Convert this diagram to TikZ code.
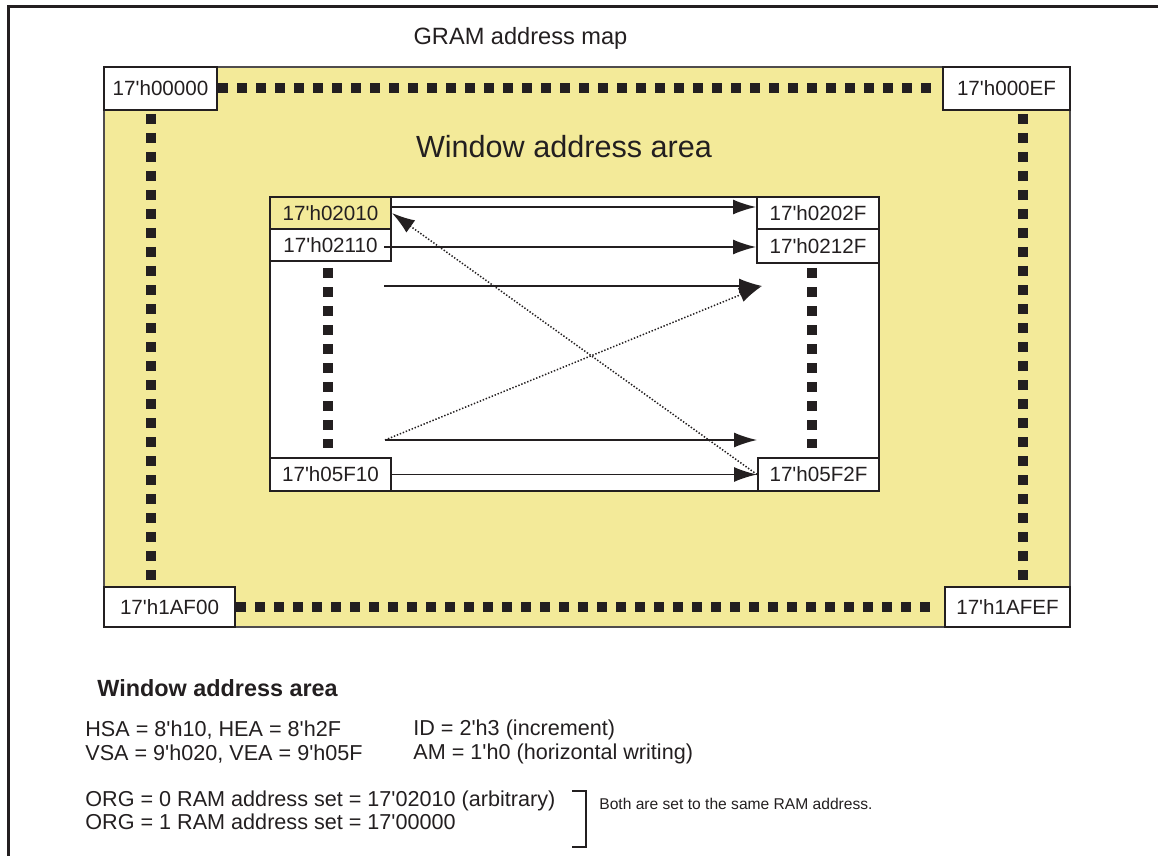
\documentclass[tikz,border=0pt]{standalone}
\usepackage{fontspec}
\setmainfont{Liberation Sans}[Ligatures=TeXOff]
\usetikzlibrary{arrows.meta}
\definecolor{gramyellow}{RGB}{243,234,153}
\definecolor{ink}{RGB}{35,31,32}

\begin{document}
\begin{tikzpicture}[x=0.5pt,y=-0.5pt,
    addr/.style={draw=ink,line width=1pt,fill=white,inner sep=0pt,text=ink,font=\fontsize{10.3}{12}\selectfont},
    sqdots/.style={ink,line width=5pt,dash pattern=on 5pt off 4.5pt},
    wr/.style={ink,line width=0.75pt,-{Latex[length=11.5pt,width=7.5pt]}},
    jump/.style={ink,line width=0.75pt,dash pattern=on 0.7pt off 0.9pt,-{Latex[length=11.5pt,width=7.5pt]}},
    txt/.style={anchor=west,inner sep=0pt,text=ink,font=\fontsize{10.8}{12}\selectfont}]
    \useasboundingbox (0,0) rectangle (1158,856);
    % frame and GRAM area
    \draw[ink,line width=1.5pt] (8,856) -- (8,7) -- (1158,7);
    \draw[fill=gramyellow,draw=ink!80,line width=1pt] (104,67) rectangle (1070,627);
    \draw[fill=white,draw=ink,line width=1pt] (270,197) rectangle (879,491);
    \node[text=ink,font=\fontsize{11.8}{14}\selectfont] (title) at (520.5,38) {GRAM address map};
    \node[text=ink,font=\fontsize{15.3}{18}\selectfont] (area) at (564,147) {Window address area};
    % corner addresses
    \node[addr,minimum width=56.5pt,minimum height=21.5pt] (tl) at (160.5,88.5) {17'h00000};
    \node[addr,minimum width=63.5pt,minimum height=21.5pt] (tr) at (1006.5,88.5) {17'h000EF};
    \node[addr,minimum width=65.5pt,minimum height=20pt] (bl) at (169.5,607) {17'h1AF00};
    \node[addr,minimum width=62.5pt,minimum height=20pt] (br) at (1007.5,607) {17'h1AFEF};
    \draw[sqdots,shorten >=3pt] (tl.east) -- (tr.west);
    \draw[sqdots,shorten >=3pt] (bl.east) -- (br.west);
    \draw[sqdots] (151,114) -- (151,582);
    \draw[sqdots] (1023,114) -- (1023,582);
    % window addresses
    \node[addr,fill=gramyellow,minimum width=60.5pt,minimum height=16pt] (s02010) at (330.5,213) {17'h02010};
    \node[addr,minimum width=60.5pt,minimum height=16pt] (s02110) at (330.5,245) {17'h02110};
    \node[addr,minimum width=61pt,minimum height=16pt] (e0202F) at (818,213) {17'h0202F};
    \node[addr,minimum width=61pt,minimum height=17pt] (e0212F) at (818,246) {17'h0212F};
    \node[addr,minimum width=60.5pt,minimum height=16.5pt] (s05F10) at (330.5,474.5) {17'h05F10};
    \node[addr,minimum width=60.5pt,minimum height=16.5pt] (e05F2F) at (818.5,474.5) {17'h05F2F};
    \draw[sqdots] (328,268) -- (328,448);
    \draw[sqdots] (812,268) -- (812,448);
    \coordinate (r3s) at (384,286);
    \coordinate (r3e) at (762,286);
    \coordinate (r4s) at (385,440);
    \coordinate (r4e) at (757,440);
    \draw[wr] ([yshift=3pt]s02010.east) -- ([yshift=3pt]e0202F.west);
    \draw[wr] ([xshift=-4pt,yshift=-1pt]s02110.east) -- ([yshift=-0.5pt]e0212F.west);
    \draw[wr] (r3s) -- (r3e);
    \draw[wr] (r4s) -- (r4e);
    \draw[wr] (s05F10.east) -- (e05F2F.west);
    \draw[jump] (r4s) -- (r3e);
    \draw[jump] (e05F2F.west) -- (s02010.east);
    % register notes
    \node[txt,font=\bfseries\fontsize{11.7}{14}\selectfont] (head) at (97,688) {Window address area};
    \node[txt] (hsa) at (85,730) {HSA = 8'h10, HEA = 8'h2F};
    \node[txt] (id) at (413,730) {ID = 2'h3 (increment)};
    \node[txt] (vsa) at (85,754) {VSA = 9'h020, VEA = 9'h05F};
    \node[txt] (am) at (413,754) {AM = 1'h0 (horizontal writing)};
    \node[txt] (org0) at (85,801) {ORG = 0 RAM address set = 17'02010 (arbitrary)};
    \node[txt] (org1) at (85,822) {ORG = 1 RAM address set = 17'00000};
    \draw[ink,line width=1pt] (572,791) -- (586,791) -- (586,847) -- (572,847);
    \node[txt,font=\fontsize{7.8}{9}\selectfont] (both) at (599,804) {Both are set to the same RAM address.};
\end{tikzpicture}
\end{document}
